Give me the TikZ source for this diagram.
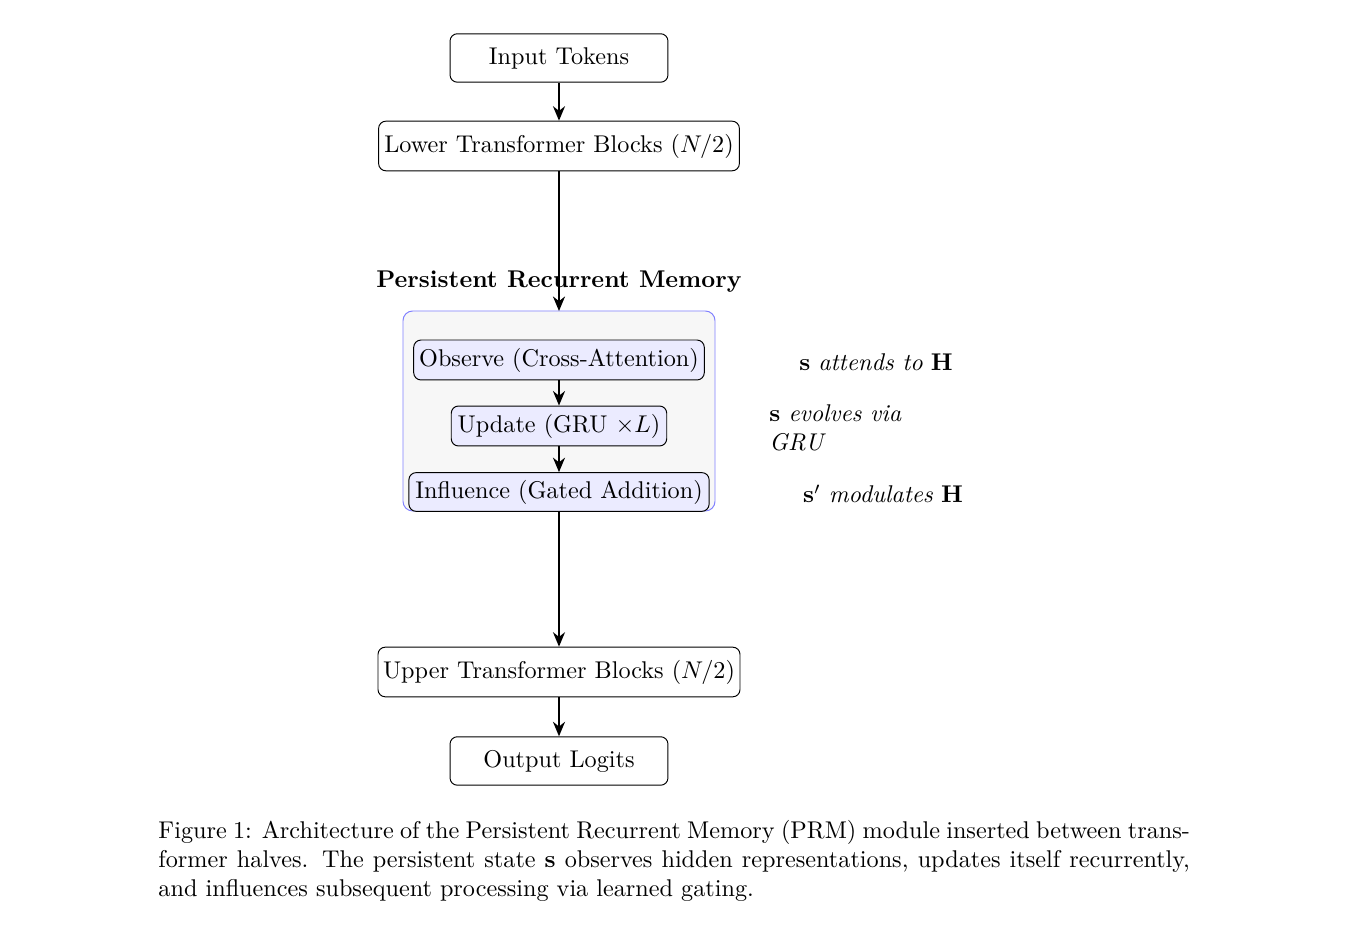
\documentclass[tikz,border=0pt]{standalone}
\usetikzlibrary{arrows.meta}
\begin{document}
\begin{tikzpicture}[x=0.413pt,y=-0.413pt,
  box/.style={draw,rounded corners=3pt,font=\normalsize,inner sep=0pt},
  inbox/.style={box,fill=blue!8},
  arr/.style={-{Stealth[length=6pt,width=5pt]},semithick},
  note/.style={font=\normalsize,inner sep=0pt}]
\useasboundingbox (0,0) rectangle (1347,926);
\node[box,minimum width=90pt,minimum height=20pt] (in) at (559,58) {Input Tokens};
\node[box,minimum width=149pt,minimum height=20.5pt] (low) at (559,146) {Lower Transformer Blocks ($N/2$)};
\node[font=\bfseries] (title) at (559,282) {Persistent Recurrent Memory};
\draw[blue!50,fill=gray!6,rounded corners=4pt] (403,311) rectangle (715,511);
\coordinate (ctop) at (559,311);
\coordinate (cbot) at (559,511);
\node[inbox,minimum width=120pt,minimum height=16.5pt] (obs) at (559,360) {Observe (Cross-Attention)};
\node[inbox,minimum width=89pt,minimum height=16.5pt] (upd) at (559,426) {Update (GRU $\times L$)};
\node[inbox,minimum width=124pt,minimum height=16pt] (inf) at (559,492) {Influence (Gated Addition)};
\node[box,minimum width=149.5pt,minimum height=20.5pt] (up) at (559,672) {Upper Transformer Blocks ($N/2$)};
\node[box,minimum width=90pt,minimum height=20pt] (out) at (559,761) {Output Logits};
\draw[arr] (in) -- (low);
\draw[arr] (low) -- (ctop);
\draw[arr] (obs) -- (upd);
\draw[arr] (upd) -- (inf);
\draw[arr] (cbot) -- (up);
\draw[arr] (up) -- (out);
\node[note] (n1) at (876,362) {$\mathbf{s}$ \textit{attends to} $\mathbf{H}$};
\node[note,anchor=west,align=left] (n2) at (769,428) {$\mathbf{s}$ \textit{evolves via}\\\textit{GRU}};
\node[note] (n3) at (883,494) {$\mathbf{s}'$ \textit{modulates} $\mathbf{H}$};
\node[anchor=north west,text width=426pt,align=justify,inner sep=0pt] (cap) at (158,820)
 {Figure 1: Architecture of the Persistent Recurrent Memory (PRM) module inserted between transformer halves. The persistent state $\mathbf{s}$ observes hidden representations, updates itself recurrently, and influences subsequent processing via learned gating.};
\end{tikzpicture}
\end{document}
